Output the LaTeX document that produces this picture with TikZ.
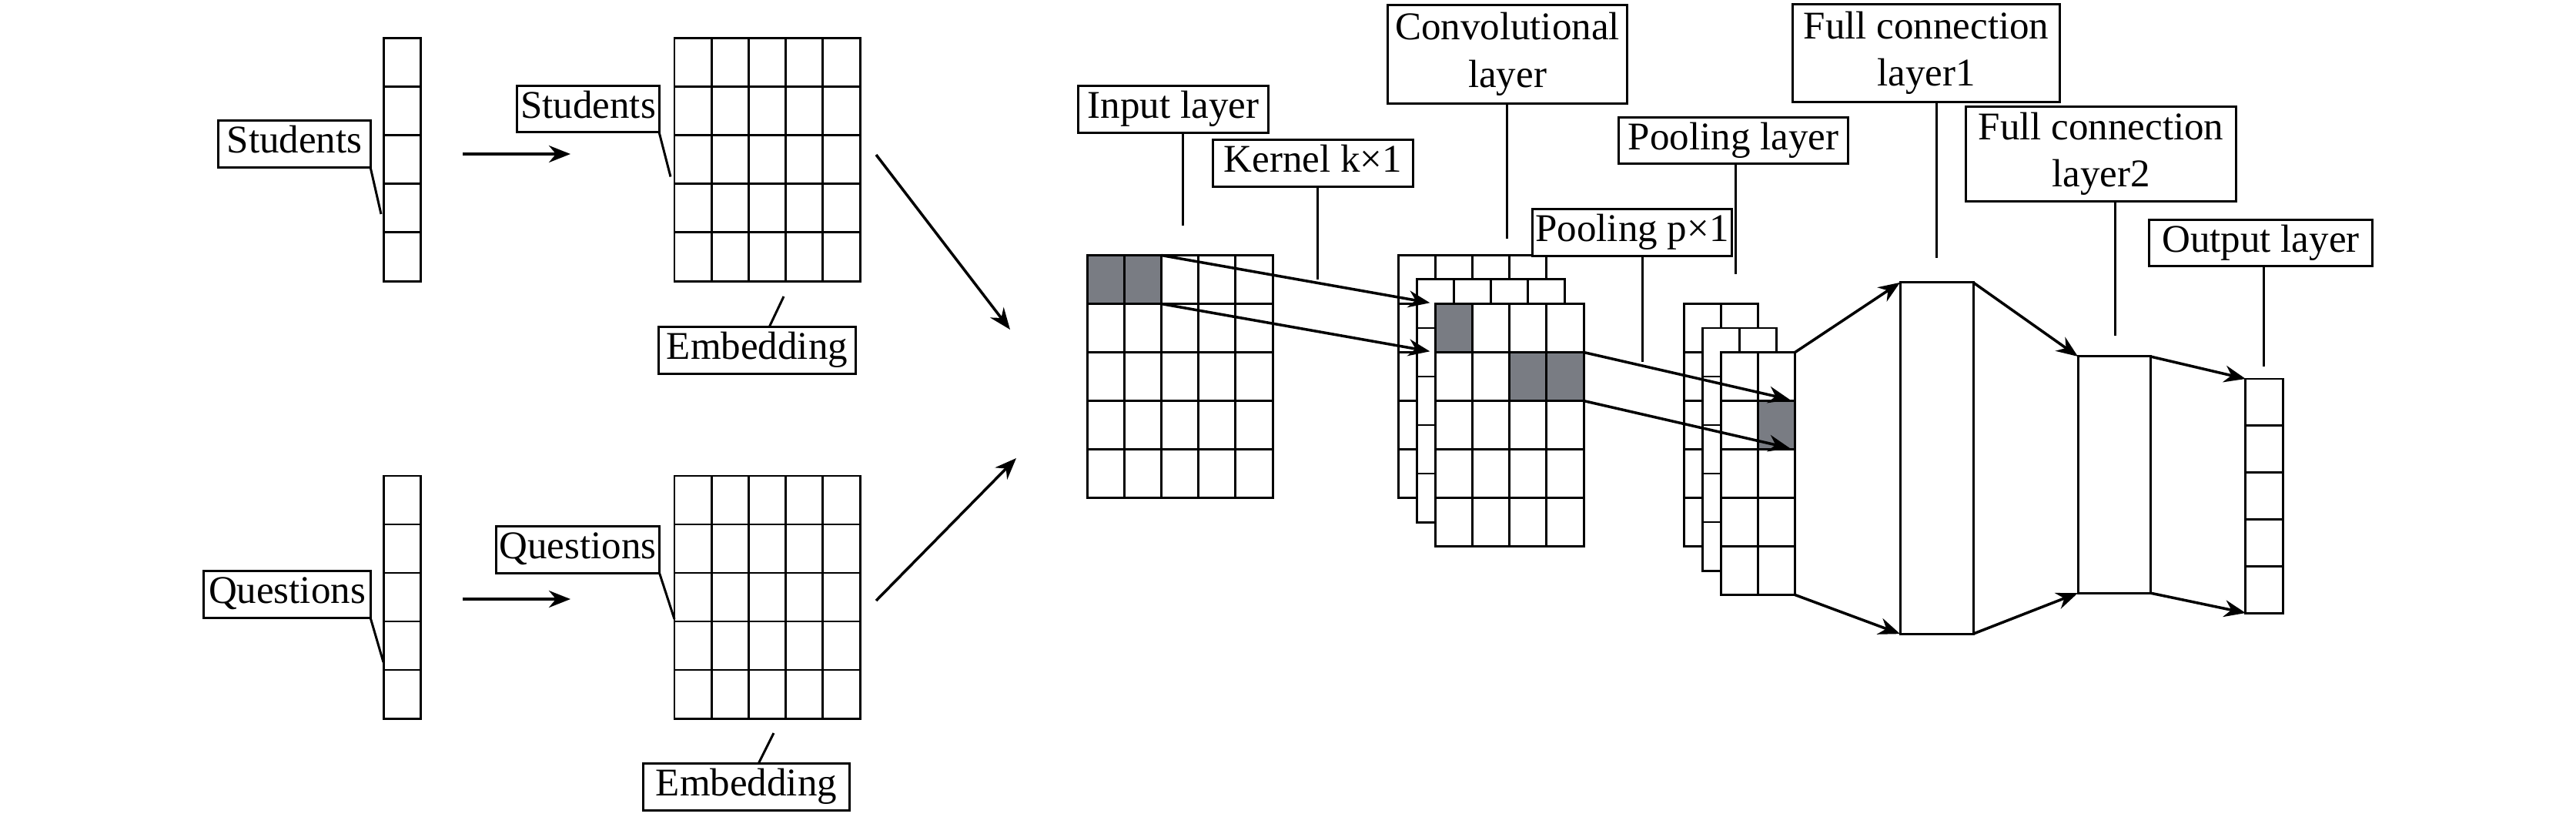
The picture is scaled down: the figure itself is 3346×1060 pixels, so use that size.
\documentclass[tikz,border=0pt]{standalone}
\usepackage{fontspec}
\setmainfont{Liberation Serif}
\usetikzlibrary{arrows.meta}
\definecolor{cellGrey}{HTML}{797C83}

\begin{document}
\begin{tikzpicture}[
  x=0.01cm, y=-0.01cm,
  font=\fontsize{14.5}{17.5}\selectfont,
  cell/.style={draw, line width=0.85pt, fill=white, inner sep=0pt, outer sep=0pt,
               minimum width=0.482cm, minimum height=0.63cm},
  ocell/.style={cell, minimum height=0.608cm},
  hot/.style={cell, fill=cellGrey},
  band/.style={draw, line width=0.85pt, inner sep=0pt, outer sep=0pt},
  tag/.style={draw, line width=0.85pt, fill=white, inner xsep=0.04cm, inner ysep=0.07cm,
              outer sep=0pt, text height=9.9pt, text depth=3.2pt},
  tagtwo/.style={draw, line width=0.85pt, fill=white, align=center, inner sep=0.04cm,
                 outer sep=0pt, minimum height=1.27cm},
  lead/.style={line width=0.85pt},
  a/.style={-{Stealth[length=0.28cm, width=0.22cm]}, line width=1pt}
]
\useasboundingbox (0,0) rectangle (3346,1060);

\foreach \r in {1,...,5} {
  \node[cell] (sv\r) at (522.5, 18.5+63*\r) {};
  \node[cell] (qv\r) at (522.5, 586.5+63*\r) {};
  \node[ocell] (out\r) at (2941, 461.6+60.8*\r) {};
}
\foreach \c in {1,...,5} \foreach \r in {1,...,5} {
  \node[cell] (se-\r-\c) at (851.9+48.2*\c, 18.5+63*\r) {};
  \node[cell] (qe-\r-\c) at (851.9+48.2*\c, 586.5+63*\r) {};
  \node[cell] (in-\r-\c) at (1387.9+48.2*\c, 300+63*\r) {};
}
\foreach \k in {0,1,2} \foreach \c in {1,...,4} \foreach \r in {1,...,5}
  \node[cell] (cv\k-\r-\c) at (1791.9+24.1*\k+48.2*\c, 300+31.5*\k+63*\r) {};
\foreach \k in {0,1,2} \foreach \c in {1,2} \foreach \r in {1,...,5}
  \node[cell] (pl\k-\r-\c) at (2162.9+24.1*\k+48.2*\c, 363+31.5*\k+63*\r) {};

\node[hot] (kerA) at (in-1-1) {};
\node[hot] (kerB) at (in-1-2) {};
\node[hot] (convA) at (cv2-1-1) {};
\node[hot] (winA) at (cv2-2-3) {};
\node[hot] (winB) at (cv2-2-4) {};
\node[hot] (poolA) at (pl2-2-2) {};

\node[band, minimum width=0.95cm, minimum height=4.56cm] (fc1) at (2515.5,595) {};
\node[band, minimum width=0.94cm, minimum height=3.07cm] (fc2) at (2746,616.5) {};

\node[tag, minimum width=1.97cm] (stuTagA) at (382.5,187) {Students};
\node[tag, minimum width=1.84cm] (stuTagB) at (764,141.5) {Students};
\node[tag, minimum width=2.16cm] (queTagA) at (373,772) {Questions};
\node[tag, minimum width=2.11cm] (queTagB) at (750.5,714) {Questions};
\node[tag, minimum width=2.55cm] (embTagA) at (983.5,455) {Embedding};
\node[tag, minimum width=2.68cm] (embTagB) at (969.5,1022) {Embedding};
\node[tag, minimum width=2.46cm] (inTag) at (1524,142) {Input layer};
\node[tag, minimum width=2.59cm] (kerTag) at (1705.5,212) {Kernel k×1};
\node[tagtwo, minimum width=3.10cm] (convTag) at (1958,70.5) {Convolutional\\layer};
\node[tag, minimum width=2.54cm] (poolkTag) at (2120,302) {Pooling p×1};
\node[tag, minimum width=2.97cm] (poolTag) at (2251.5,182.5) {Pooling layer};
\node[tagtwo, minimum width=3.46cm] (fcTagA) at (2502,69) {Full connection\\layer1};
\node[tagtwo, minimum width=3.50cm, minimum height=1.22cm] (fcTagB) at (2729,200) {Full connection\\layer2};
\node[tag, minimum width=2.89cm] (outTag) at (2936.5,315.5) {Output layer};

\coordinate (stuPtA) at (495,278);
\coordinate (stuPtB) at (871,229.5);
\coordinate (quePtA) at (498,860);
\coordinate (quePtB) at (876,804);
\coordinate (embPtA) at (1018,385);
\coordinate (embPtB) at (1005,952);
\coordinate (inPt) at (1536,293);
\coordinate (kerPt) at (1711,363);
\coordinate (convPt) at (1957,310);
\coordinate (poolkPt) at (2133,470);
\coordinate (poolPt) at (2254,356);
\coordinate (fcPtA) at (2515,335);
\coordinate (fcPtB) at (2747,436);
\coordinate (outPt) at (2940.5,476);

\draw[lead] (stuTagA.south east) -- (stuPtA);
\draw[lead] (stuTagB.south east) -- (stuPtB);
\draw[lead] (queTagA.south east) -- (quePtA);
\draw[lead] (queTagB.south east) -- (quePtB);
\draw[lead] (embPtA) -- ([xshift=0.155cm]embTagA.north);
\draw[lead] (embPtB) -- ([xshift=0.155cm]embTagB.north);
\draw[lead] (inPt |- inTag.south) -- (inPt);
\draw[lead] (kerPt |- kerTag.south) -- (kerPt);
\draw[lead] (convPt |- convTag.south) -- (convPt);
\draw[lead] (poolkPt |- poolkTag.south) -- (poolkPt);
\draw[lead] (poolPt |- poolTag.south) -- (poolPt);
\draw[lead] (fcPtA |- fcTagA.south) -- (fcPtA);
\draw[lead] (fcPtB |- fcTagB.south) -- (fcPtB);
\draw[lead] (outPt |- outTag.south) -- (outPt);

\coordinate (stuFrom) at (601,200);
\coordinate (stuTo) at (741,200);
\coordinate (queFrom) at (601,778);
\coordinate (queTo) at (741,778);
\coordinate (mixFromA) at (1138,201);
\coordinate (mixToA) at (1312,428);
\coordinate (mixFromB) at (1138,780);
\coordinate (mixToB) at (1320,595);

\draw[a] (stuFrom) -- (stuTo);
\draw[a] (queFrom) -- (queTo);
\draw[a] (mixFromA) -- (mixToA);
\draw[a] (mixFromB) -- (mixToB);
\draw[a, shorten >=0.07cm] (kerB.north east) -- (convA.north west);
\draw[a, shorten >=0.07cm] (kerB.south east) -- (convA.south west);
\draw[a, shorten >=0.07cm] (winB.north east) -- (poolA.north east);
\draw[a, shorten >=0.07cm] (winB.south east) -- (poolA.south east);
\draw[a] (pl2-1-2.north east) -- (fc1.north west);
\draw[a] (pl2-5-2.south east) -- (fc1.south west);
\draw[a] (fc1.north east) -- (fc2.north west);
\draw[a] (fc1.south east) -- (fc2.south west);
\draw[a] (fc2.north east) -- (out1.north west);
\draw[a] (fc2.south east) -- (out5.south west);
\end{tikzpicture}
\end{document}
